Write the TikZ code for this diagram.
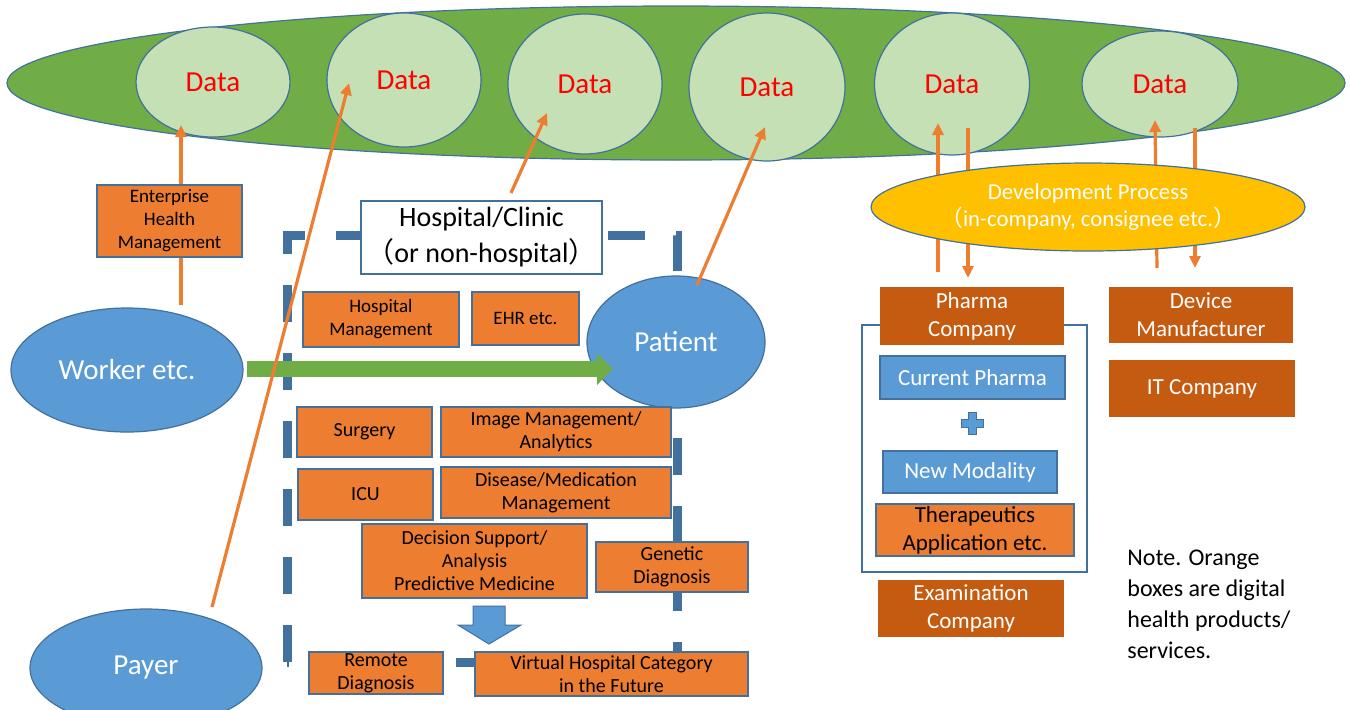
\documentclass[tikz,border=0pt]{standalone}
\usepackage{fontspec}
\setmainfont{Carlito}
\newfontfamily\cjk{Noto Sans CJK JP}
\usetikzlibrary{arrows.meta,shapes.geometric}
\definecolor{bgreen}{HTML}{70AD47}
\definecolor{lgreen}{HTML}{C5E0B4}
\definecolor{bordblue}{HTML}{41719C}
\definecolor{mblue}{HTML}{5B9BD5}
\definecolor{orng}{HTML}{ED7D31}
\definecolor{dorng}{HTML}{C55A11}
\definecolor{yel}{HTML}{FFC000}
\begin{document}
\begin{tikzpicture}[x=0.5pt,y=-0.5pt,
  ell/.style={ellipse, draw=bordblue, line width=0.6pt, inner sep=0pt},
  datac/.style={ell, fill=lgreen, text=red, font=\fontsize{14.5}{16}\selectfont},
  blueell/.style={ell, fill=mblue, text=white, font=\fontsize{14.5}{16}\selectfont},
  obox/.style={draw=bordblue, line width=0.6pt, fill=orng, text=black, align=center, inner sep=0pt, font=\fontsize{9.5}{11.5}\selectfont},
  obig/.style={obox, font=\fontsize{10}{11.5}\selectfont},
  dbox/.style={fill=dorng, text=white, align=center, inner sep=0pt, font=\fontsize{11.5}{14}\selectfont},
  bbox/.style={draw=bordblue, line width=0.6pt, fill=mblue, text=white, align=center, inner sep=0pt, font=\fontsize{11.5}{14}\selectfont},
  oarr/.style={draw=orng, line width=1.6pt, -{Triangle[length=6pt,width=5.5pt]}},
  dashrect/.style={draw=bordblue, line width=4.5pt, dash pattern=on 18.5pt off 15.5pt},
]
\useasboundingbox (0,0) rectangle (1350,709);
\clip (0,0) rectangle (1350,709);

% big green ellipse with data circles
\node[ell, fill=bgreen, minimum width=669pt, minimum height=77pt] (big) at (676,83) {};
\node[datac, minimum width=77pt, minimum height=55pt] (d1) at (213,82) {Data};
\node[datac, minimum width=77pt, minimum height=67pt] (d2) at (404,80) {Data};
\node[datac, minimum width=77pt, minimum height=70pt] (d3) at (585,84) {Data};
\node[datac, minimum width=78pt, minimum height=74pt] (d4) at (767,87) {Data};
\node[datac, minimum width=77.5pt, minimum height=71pt] (d5) at (952,84) {Data};
\node[datac, minimum width=78pt, minimum height=53pt] (d6) at (1160,84) {Data};

% dashed hospital frame
\draw[dashrect] (287,662) -- (287,235) -- (677,235) -- (677,662) -- cycle;

% people
\node[blueell, minimum width=116pt, minimum height=62pt] (worker) at (127,370) {Worker etc.};
\node[blueell, minimum width=116pt, minimum height=59pt] (payer) at (146,668) {Payer};
\node[blueell, minimum width=89pt, minimum height=66pt] (patient) at (676,342) {Patient};

% green arrow
\coordinate (gs) at (247,369);
\coordinate (gt) at (613,369);
\draw[bgreen, line width=8pt, -{Triangle[length=8pt,width=15.5pt]}] (gs) -- (gt);

% orange connectors
\coordinate (e1s) at (181,305); \coordinate (e1t) at (181,125);
\coordinate (p1s) at (212,607); \coordinate (p1t) at (349,83);
\coordinate (h1s) at (511,193); \coordinate (h1t) at (547,113);
\coordinate (pt1s) at (697,285); \coordinate (pt1t) at (765,127);
\coordinate (ph1s) at (938,272); \coordinate (ph1t) at (938,123);
\coordinate (ph2s) at (968,128); \coordinate (ph2t) at (968,278);
\coordinate (dv1s) at (1157,268); \coordinate (dv1t) at (1155,120);
\coordinate (dv2s) at (1195,128); \coordinate (dv2t) at (1195,268);
\draw[oarr] (e1s) -- (e1t);
\draw[oarr] (p1s) -- (p1t);
\draw[oarr] (h1s) -- (h1t);
\draw[oarr] (pt1s) -- (pt1t);
\draw[oarr] (ph1s) -- (ph1t);
\draw[oarr] (ph2s) -- (ph2t);
\draw[oarr] (dv1s) -- (dv1t);
\draw[oarr] (dv2s) -- (dv2t);

% development process
\node[ell, fill=yel, text=white, align=center, minimum width=217pt, minimum height=44pt, font=\fontsize{11.4}{14}\selectfont] (dev) at (1088,207)
  {Development Process\\[-0.5pt]{\cjk （}in-company, consignee etc.{\cjk ）}};

% left boxes
\node[obox, minimum width=72.5pt, minimum height=36pt] (ehm) at (169.5,221) {Enterprise\\Health\\Management};

% hospital label
\node[draw=bordblue, line width=0.6pt, fill=white, align=center, inner sep=0pt, minimum width=120.5pt, minimum height=36.5pt, font=\fontsize{14}{18}\selectfont] (hosp) at (481.5,237.5)
  {Hospital/Clinic\\{\cjk （}or non-hospital{\cjk ）}};

% hospital boxes
\node[obox, minimum width=78pt, minimum height=27.5pt] (hm) at (381,319.5) {Hospital\\Management};
\node[obox, minimum width=53.5pt, minimum height=26.5pt] (ehr) at (525.5,318.5) {EHR etc.};
\node[obig, minimum width=67.5pt, minimum height=25pt] (surg) at (364.5,432) {Surgery};
\node[obig, minimum width=115pt, minimum height=25pt] (img) at (556,432) {Image Management/\\Analytics};
\node[obig, minimum width=67.5pt, minimum height=25.5pt] (icu) at (365.5,494.5) {ICU};
\node[obig, minimum width=115pt, minimum height=25.5pt] (dis) at (556,492.5) {Disease/Medication\\Management};
\node[obig, minimum width=112.5pt, minimum height=37pt] (dec) at (474.5,561) {Decision Support/\\Analysis\\Predictive Medicine};
\node[obig, minimum width=76pt, minimum height=25pt] (gen) at (672,567) {Genetic\\Diagnosis};
\node[obig, minimum width=67pt, minimum height=21pt] (rem) at (376,673) {Remote\\Diagnosis};
\node[obig, minimum width=136.5pt, minimum height=22pt] (vir) at (611.5,674) {Virtual Hospital Category\\in the Future};

% blue block arrow
\filldraw[fill=mblue, draw=bordblue, line width=0.5pt] (473,606) -- (505,606) -- (505,625) -- (521,625) -- (489,644) -- (458,625) -- (473,625) -- cycle;

% right side
\draw[draw=bordblue, line width=0.6pt, fill=white] (862,325) rectangle (1087,572);
\node[dbox, minimum width=92pt, minimum height=29pt] (pharma) at (972,316) {Pharma\\Company};
\node[dbox, minimum width=92pt, minimum height=28pt] (device) at (1201,315) {Device\\Manufacturer};
\node[dbox, minimum width=93pt, minimum height=28.5pt] (itc) at (1202,388.5) {IT Company};
\node[bbox, minimum width=92.5pt, minimum height=21.5pt] (cur) at (972.5,377.5) {Current Pharma};
\filldraw[fill=mblue, draw=bordblue, line width=0.4pt] (968,412) -- (976,412) -- (976,419) -- (983,419) -- (983,427) -- (976,427) -- (976,434) -- (968,434) -- (968,427) -- (961,427) -- (961,419) -- (968,419) -- cycle;
\node[bbox, minimum width=87pt, minimum height=21pt] (newm) at (970,472) {New Modality};
\node[obox, minimum width=99pt, minimum height=26pt, font=\fontsize{11.5}{14}\selectfont] (ther) at (975,530) {Therapeutics\\Application etc.};
\node[dbox, minimum width=93pt, minimum height=28.5pt] (exam) at (971,608.5) {Examination\\Company};

% note
\node[anchor=north west, align=left, inner sep=0pt, font=\fontsize{12}{15.5}\selectfont] (note) at (1127,550)
  {Note. Orange\\boxes are digital\\health products/\\services.};
\end{tikzpicture}
\end{document}
